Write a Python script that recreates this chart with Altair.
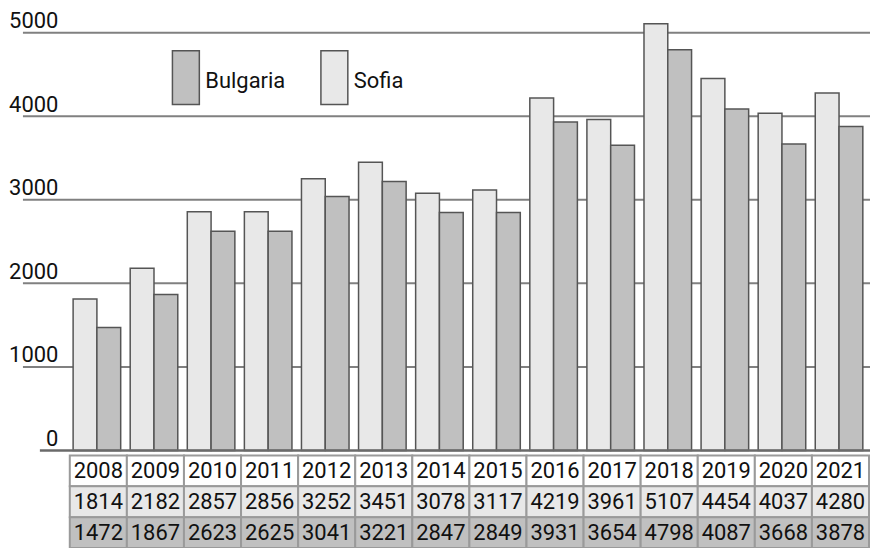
import altair as alt
import pandas as pd

# ---- data ----
years = [2008, 2009, 2010, 2011, 2012, 2013, 2014, 2015, 2016, 2017, 2018, 2019, 2020, 2021]
sofia = [1814, 2182, 2857, 2856, 3252, 3451, 3078, 3117, 4219, 3961, 5107, 4454, 4037, 4280]
bulgaria = [1472, 1867, 2623, 2625, 3041, 3221, 2847, 2849, 3931, 3654, 4798, 4087, 3668, 3878]
y_ticks = [0, 1000, 2000, 3000, 4000, 5000]
series_order = ["Sofia", "Bulgaria"]
legend_order = ["Bulgaria", "Sofia"]
row_order = ["year", "Sofia", "Bulgaria"]

FONT = "Roboto"
FS = 22
TXT = "#111111"
COL_SOFIA = "#e8e8e8"
COL_BULG = "#c0c0c0"
GRID = "#808080"

W, H, TH = 802, 440, 93

bars_df = pd.DataFrame({
    "year": years * 2,
    "series": ["Sofia"] * len(years) + ["Bulgaria"] * len(years),
    "value": sofia + bulgaria,
})
grid_df = pd.DataFrame({"v": y_ticks[1:]})
base_df = pd.DataFrame({"v": y_ticks[:1]})
table_df = pd.DataFrame({
    "year": years * 3,
    "row": ["year"] * len(years) + ["Sofia"] * len(years) + ["Bulgaria"] * len(years),
    "label": [str(y) for y in years] + [str(v) for v in sofia] + [str(v) for v in bulgaria],
})

x_enc = alt.X("year:O", scale=alt.Scale(paddingInner=0, paddingOuter=0), axis=None)
y_scale = alt.Scale(domain=[0, 5250], nice=False)

grid = alt.Chart(grid_df).mark_rule(color=GRID, strokeWidth=2).encode(
    y=alt.Y("v:Q", scale=y_scale,
            axis=alt.Axis(values=y_ticks, format="d", grid=False, domain=False, ticks=False,
                          labelAlign="right", labelBaseline="alphabetic", labelPadding=12,
                          labelOffset=-5, labelFont=FONT, labelFontSize=FS, labelColor=TXT,
                          title=None)),
    x=alt.value(-47), x2=alt.value(W + 1),
)

bars = alt.Chart(bars_df).mark_bar(stroke="#555555", strokeWidth=1.5).encode(
    x=x_enc,
    xOffset=alt.XOffset("series:N", scale=alt.Scale(domain=series_order, paddingOuter=0.2,
                                                    paddingInner=0, align=0.35)),
    y=alt.Y("value:Q", scale=y_scale),
    color=alt.Color("series:N", scale=alt.Scale(domain=legend_order, range=[COL_BULG, COL_SOFIA]), legend=None),
)

base = alt.Chart(base_df).mark_rule(color="#6a6a6a", strokeWidth=2.5).encode(
    y=alt.Y("v:Q", scale=y_scale),
    x=alt.value(-30), x2=alt.value(W + 1),
)


def legend_item(name, color, x0):
    d = pd.DataFrame({"s": [name]})
    sw = alt.Chart(d).mark_rect(fill=color, stroke="#555555", strokeWidth=1.5).encode(
        x=alt.value(x0), x2=alt.value(x0 + 27), y=alt.value(39), y2=alt.value(93))
    tx = alt.Chart(d).mark_text(align="left", baseline="middle", font=FONT, fontSize=FS, color=TXT).encode(
        x=alt.value(x0 + 33), y=alt.value(69), text="s:N")
    return sw + tx


leg = legend_item("Bulgaria", COL_BULG, 103) + legend_item("Sofia", COL_SOFIA, 252)

top = alt.layer(grid, bars, base, leg).properties(width=W, height=H)

row_y = alt.Y("row:N", scale=alt.Scale(domain=row_order, paddingInner=0, paddingOuter=0), axis=None)
cells = alt.Chart(table_df).mark_rect(stroke="#9a9a9a", strokeWidth=2).encode(
    x=x_enc, y=row_y,
    fill=alt.Fill("row:N", scale=alt.Scale(domain=row_order, range=["#ffffff", COL_SOFIA, COL_BULG]), legend=None),
)
texts = alt.Chart(table_df).mark_text(font=FONT, fontSize=FS, color=TXT, baseline="middle").encode(
    x=x_enc, y=row_y, text="label:N")
bottom = alt.layer(cells, texts).properties(width=W, height=TH)

chart = alt.vconcat(top, bottom, spacing=5, bounds="flush").properties(
    padding={"left": 0, "top": 0, "right": 0, "bottom": -2}
).configure_view(stroke=None)

chart.save("out.html", embed_options={"renderer": "svg", "actions": False})
